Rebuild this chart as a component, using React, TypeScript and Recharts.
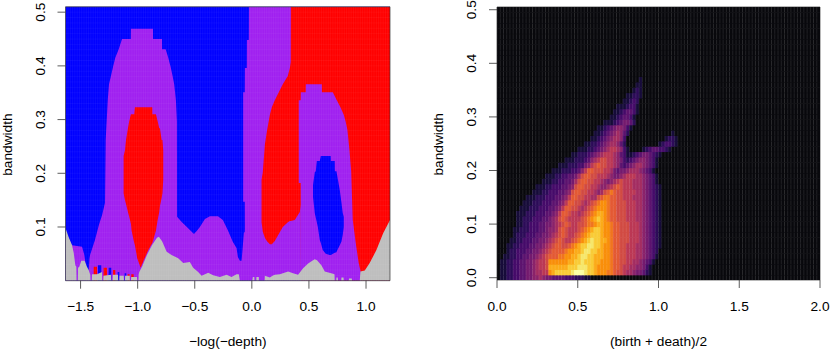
import React from 'react';
import { ComposedChart, Area, Scatter, XAxis, YAxis, ReferenceArea, ReferenceLine } from 'recharts';

const COL = { blue: '#0000FF', red: '#FF0000', purple: '#A020F0', gray: '#BEBEBE' };

// ---- left panel: regions of the (x, bandwidth) plane ----
const purpleX = [-1.632,-1.575,-1.487,-1.467,-1.452,-1.444,-1.429,-1.422,-1.417,-1.374,-1.339,-1.312,-1.286,-1.280,-1.262,-1.251,-1.234,-1.216,-1.196,-1.166,-1.137,-1.060,-1.059,-.866,-.865,-.787,-.786,-.755,-.732,-.711,-.694,-.680,-.665,-.656,-.655,-.612,-.560,-.516,-.507,-.481,-.455,-.411,-.367,-.297,-.254,-.210,-.166,-.134,-.122,-.105,-.090,-.079,-.070,-.061,-.052,.464];
const purpleTop = [.091,.066,.063,.048,.026,.018,.018,.042,.048,.076,.104,.122,.145,.262,.336,.366,.381,.398,.415,.431,.450,.450,.469,.469,.450,.450,.431,.431,.415,.398,.381,.366,.336,.297,.119,.109,.098,.089,.087,.093,.100,.115,.120,.120,.113,.094,.072,.061,.044,.037,.037,.065,.089,.091,.150,.150];

const stripX = [-.076,-.062,-.061,-.044,-.043,-.026,-.025,.35];
const stripHi = [.351,.351,.396,.396,.448,.448,.51,.51];
const stripLo = [.147,.147,.076,.076,.076,.076,.076,.076];

const redX = [.085,.096,.114,.131,.158,.175,.201,.236,.271,.315,.333,.341,.342,.376,.420,.429,.43,1.21];
const redHi = [.188,.202,.253,.277,.309,.323,.336,.351,.366,.381,.396,.407,.51,.51,.51,.51,.51,.51];
const redLo = [.109,.091,.080,.074,.068,.068,.074,.087,.100,.109,.111,.111,.111,.113,.128,.141,0,0];

const domeX = [.411,.428,.429,.472,.473,.613,.614,.709,.744,.776,.805,.822,.837,.855,.869,.870,.884,.910,.936,.954,.958];
const domeHi = [.336,.336,.351,.351,.366,.366,.351,.351,.336,.323,.309,.296,.281,.243,.206,.204,.113,.070,.033,.016,0];
const domeLo = [.182,.182,0,0,0,0,0,0,0,0,0,0,0,0,0,0,0,0,0,0,0];

const blobBlueX = [.536,.551,.560,.569,.578,.595,.604,.621,.647,.682,.691,.692,.726,.727,.741,.744,.770,.785,.796,.805];
const blobBlueHi = [.178,.202,.204,.223,.223,.223,.232,.232,.232,.232,.232,.223,.223,.204,.204,.200,.169,.145,.126,.119];
const blobBlueLo = [.156,.126,.117,.109,.100,.076,.070,.057,.050,.048,.048,.048,.052,.052,.053,.055,.066,.073,.085,.100];

const blobRedX = [-1.123,-1.111,-1.102,-1.085,-1.074,-1.059,-1.053,-1.030,-1.024,-1.004,-.974,-.945,-.907,-.872,-.871,-.858,-.840,-.825,-.811,-.805,-.790,-.783,-.776];
const blobRedHi = [.232,.243,.262,.284,.297,.310,.310,.310,.323,.323,.323,.323,.323,.323,.310,.310,.310,.297,.284,.284,.262,.262,.243];
const blobRedLo = [.163,.150,.143,.128,.119,.106,.093,.070,.066,.042,.024,.039,.057,.070,.070,.080,.093,.113,.128,.139,.154,.163,.188];

const speckRedX = [-1.386,-1.385,-1.356,-1.355,-1.299,-1.298,-1.269,-1.268,-1.217,-1.216,-1.196,-1.195,-1.089,-1.088,-1.070,-1.069,-1.057,-1.056,-1.035,-1.034];
const speckRedTop = [0,.026,.026,0,0,.024,.024,0,0,.020,.020,0,0,.012,.012,0,0,.012,.012,0];
const speckBlueX = [-1.349,-1.348,-1.319,-1.318,-1.255,-1.254,-1.231,-1.230,-1.176,-1.175,-1.161,-1.160,-1.115,-1.114,-1.100,-1.099];
const speckBlueTop = [0,.029,.029,0,0,.024,.024,0,0,.016,.016,0,0,.014,.014,0];

const grayX = [-1.632,-1.604,-1.575,-1.560,-1.546,-1.537,-1.535,-1.524,-1.522,-1.511,-1.494,-1.465,-1.444,-1.429,-1.415,-1.413,-1.402,-1.400,-1.356,-1.312,-1.311,-1.302,-1.300,-1.234,-1.232,-1.220,-1.218,-1.172,-1.171,-1.160,-1.159,-1.122,-1.120,-1.111,-1.110,-1.069,-1.068,-1.059,-1.057,-1.006,-1.004,-.993,-.991,-.986,-.962,-.919,-.875,-.831,-.814,-.785,-.746,-.703,-.645,-.601,-.543,-.514,-.470,-.440,-.382,-.339,-.280,-.221,-.178,-.134,-.114,-.105,.004,.009,.022,.023,.039,.040,.061,.062,.112,.114,.158,.181,.201,.245,.318,.361,.405,.449,.493,.536,.551,.571,.609,.639,.711,.724,.726,.739,.741,.752,.755,.783,.785,.803,.805,.849,.851,.875,.878,.945,.951,.989,1.032,1.091,1.149,1.21];
const grayTop = [.098,.081,.066,.052,.029,.026,0,0,.024,.026,.037,.037,.026,.020,.011,0,0,.012,.012,.016,0,0,.009,.011,0,0,.011,.011,0,0,.009,.009,0,0,.009,.009,0,0,.007,.007,0,0,.012,.016,.026,.048,.066,.080,.082,.073,.054,.048,.042,.033,.035,.024,.016,.009,.015,.010,.007,.011,.007,.012,.012,0,0,.007,.007,0,0,.007,.007,0,0,.009,.006,.009,.011,.012,.017,.014,.011,.023,.032,.038,.040,.038,.029,.017,.013,.012,0,0,.006,.006,0,0,.006,.006,0,0,.004,.004,0,0,.017,.019,.033,.057,.088,.113];

// ---- right panel: density levels, one string per bandwidth step (0.00, 0.01, ...) ----
const heatStarts = [1,1,1,1,2,3,3,4,5,5,6,6,6,7,8,9,11,12,14,15,17,19,21,23,25,27,29,30,31,33,35,36,37,39,40,42,43,44];
const heatLevels = [
  '1122334455667655444433322211',
  '112233445567788cdeeeeefgggfeedcccbba99877655421',
  '112233445567889ddddddeeefffeedccccbaa9887766531',
  '112233445567889ccccccddeefeeeddcccbaa99887765431',
  '11223344556789aaabbccddeffeedddccbaa998887765431',
  '12233344556789aaaabccddeffeeddccbaa998887765432',
  '112233344556789aa99abcdeeffeedccbaa9988877654321',
  '112233344556789a9889abcdefeeddcbaa9998887654321',
  '122233344556789a9889abcdeeedccbaa9998887654321',
  '112223334456679a98889abcdeedccbaa9998887654321',
  '112233344556789a98899abbcddccbaa9998887654321',
  '11222333445' + '679a98888' + '9abcdedcbaa99988877654321',
  '11122233' + '344568aa9887' + '89abcddcbaa99988877654321',
  '11122233' + '344568aa9987' + '89abcccbaa99988877654321',
  '11122233' + '344568aa9987' + '89abccbaa99988877654321',
  '11122233' + '344568aa998877' + '9abbaa99888777654321',
  '1112233' + '344569aa9988767' + '9aba99888877654321',
  '1112233' + '344569aa99887667' + '89a98887' + '77654321',
  '111223' + '344579aa9988765678988877765431',
  '111223' + '344579aa998887655678887765431',
  '11122' + '233468aa9998875455677765431',
  '11122' + '2335689a998876434567765431',
  '1112' + '2234678998876532345665431',
  '112' + '223456788876431' + '1234554321',
  '111' + '2234567887631' + '0000' + '123443321',
  '11' + '22345677642' + '0000000000' + '123321',
  '1' + '1234567763' + '000000000000' + '1221',
  '1' + '1234567642' + '0000000000000' + '1',
  '1' + '1234566531',
  '1' + '112345542',
  '1' + '1234431',
  '11' + '234431',
  '1112331',
  '11232',
  '11221',
  '121',
  '11',
  '1',
];
const levelKeys = '0123456789abcdefg';
const levelColors = ['#08080c','#160b39','#2c0b58','#450a69','#5c126e','#741a6e','#8a226a','#a32c61','#bb3754','#d14a42','#e35933','#f0741e','#f98e09','#fbab18','#f9cb35','#f6e76a','#fcffa4'];

const leftXTicks = [-1.5, -1, -0.5, 0, 0.5, 1];
const leftYTicks = [0.1, 0.2, 0.3, 0.4, 0.5];
const rightXTicks = [0, 0.5, 1, 1.5, 2];
const rightYTicks = [0, 0.1, 0.2, 0.3, 0.4, 0.5];
const leftXLabels = ['\u22121.5', '\u22121.0', '\u22120.5', '0.0', '0.5', '1.0'];

const FONT = '"Liberation Sans", Arial, Helvetica, sans-serif';
const FS = 13.7;
const INK = '#333';

const band = (xs: number[], hi: number[], lo?: number[]) =>
  xs.map((x, i) => ({ x, band: [lo ? lo[i] : 0, hi[i]] }));

const heatRows: { x: number; y: number; fill: string }[] = [];
for (let j = 0; j <= 50; j++) {
  const s = heatLevels[j] ?? '';
  const st = heatStarts[j] ?? 0;
  for (let i = 0; i < 100; i++) {
    const k = i >= st && i - st < s.length ? levelKeys.indexOf(s[i - st]) : 0;
    heatRows.push({ x: (i + 0.5) * 0.02, y: j * 0.01, fill: levelColors[Math.max(0, k)] });
  }
}

const CELL_W = 3.23;
const CELL_H = 5.36;
const HeatCell = (p: any) => {
  const left = p.cx - CELL_W / 2;
  const top = p.cy - CELL_H / 2;
  return (
    <g>
      <rect x={left - 0.3} y={top - 0.3} width={CELL_W + 0.6} height={CELL_H + 0.6} fill={p.payload.fill} />
      <line x1={left} x2={left} y1={top} y2={top + CELL_H} stroke="#fff" strokeOpacity={0.16} strokeWidth={0.7} />
      <line x1={left} x2={left + CELL_W} y1={top} y2={top} stroke="#fff" strokeOpacity={0.05} strokeWidth={0.7} />
    </g>
  );
};

const fmt = (v: number) => v.toFixed(1);
const XTick = (labels?: string[], ticks?: number[]) => (p: any) => {
  const v = p.payload.value;
  const idx = ticks ? ticks.indexOf(v) : -1;
  return (
    <text x={p.x} y={311} textAnchor="middle" fontSize={FS} fontFamily={FONT} fill="#000">
      {labels && idx >= 0 ? labels[idx] : fmt(v)}
    </text>
  );
};
const YTick = (tx: number) => (p: any) => (
  <text x={tx} y={p.y} transform={`rotate(-90 ${tx} ${p.y})`} textAnchor="middle" fontSize={FS} fontFamily={FONT} fill="#000">
    {fmt(p.payload.value)}
  </text>
);

const none = { stroke: 'none', isAnimationActive: false, dot: false, activeDot: false, legendType: 'none' as const, fillOpacity: 1 };

const seamXs: number[] = [];
for (let i = 0; i < 142; i++) seamXs.push(-1.63 + i * 0.02);
const seamYs: number[] = [];
for (let j = 0; j < 51; j++) seamYs.push(j * 0.01);

function LeftPanel() {
  return (
    <ComposedChart width={415} height={350} margin={{ top: 6.8, right: 25, bottom: 0, left: 0 }}>
      <XAxis
        dataKey="x" type="number" domain={[-1.632, 1.21]} ticks={leftXTicks} allowDataOverflow
        height={69.3} axisLine={false} tickSize={8} tickLine={{ stroke: INK, strokeWidth: 0.8 }}
        tick={XTick(leftXLabels, leftXTicks)} interval={0}
        label={{ value: '\u2212log(\u2212depth)', position: 'insideBottom', offset: 4, fontSize: FS, fontFamily: FONT, fill: '#000' }}
      />
      <YAxis
        type="number" domain={[0, 0.51]} ticks={leftYTicks} allowDataOverflow width={65.5}
        axisLine={false} tickSize={8} tickLine={{ stroke: INK, strokeWidth: 0.8 }} tick={YTick(45)} interval={0}
        label={{ value: 'bandwidth', angle: -90, position: 'insideLeft', offset: 7, dy: 32, fontSize: FS, fontFamily: FONT, fill: '#000' }}
      />
      <ReferenceArea x1={-1.632} x2={1.21} y1={0} y2={0.51} fill={COL.blue} fillOpacity={1} stroke="none" />
      <Area data={band(purpleX, purpleTop)} dataKey="band" type="linear" fill={COL.purple} {...none} />
      <Area data={band(stripX, stripHi, stripLo)} dataKey="band" type="linear" fill={COL.purple} {...none} />
      <Area data={band(redX, redHi, redLo)} dataKey="band" type="linear" fill={COL.red} {...none} />
      <Area data={band(domeX, domeHi, domeLo)} dataKey="band" type="linear" fill={COL.purple} {...none} />
      <Area data={band(blobBlueX, blobBlueHi, blobBlueLo)} dataKey="band" type="linear" fill={COL.blue} {...none} />
      <Area data={band(blobRedX, blobRedHi, blobRedLo)} dataKey="band" type="linear" fill={COL.red} {...none} />
      <Area data={band(speckRedX, speckRedTop)} dataKey="band" type="linear" fill={COL.red} {...none} />
      <Area data={band(speckBlueX, speckBlueTop)} dataKey="band" type="linear" fill={COL.blue} {...none} />
      <Area data={band(grayX, grayTop)} dataKey="band" type="linear" fill={COL.gray} {...none} />
      {seamXs.map((x) => (
        <ReferenceLine key={`x${x}`} x={x} stroke="#fff" strokeOpacity={0.05} strokeWidth={1} />
      ))}
      {seamYs.map((y) => (
        <ReferenceLine key={`y${y}`} y={y} stroke="#fff" strokeOpacity={0.04} strokeWidth={1} />
      ))}
      <ReferenceArea x1={-1.632} x2={1.21} y1={0} y2={0.51} fill="none" stroke={INK} strokeWidth={0.7} />
    </ComposedChart>
  );
}

function RightPanel() {
  return (
    <ComposedChart width={415} height={350} margin={{ top: 7, right: 10, bottom: 0, left: 0 }}>
      <XAxis
        dataKey="x" type="number" domain={[0, 2]} ticks={rightXTicks} allowDataOverflow
        height={70} axisLine={false} tickSize={8} tickLine={{ stroke: INK, strokeWidth: 0.8 }}
        tick={XTick()} interval={0}
        label={{ value: '(birth + death)/2', position: 'insideBottom', offset: 4, fontSize: FS, fontFamily: FONT, fill: '#000' }}
      />
      <YAxis
        dataKey="y" type="number" domain={[-0.0043, 0.5051]} ticks={rightYTicks} allowDataOverflow width={82}
        axisLine={false} tickSize={8} tickLine={{ stroke: INK, strokeWidth: 0.8 }} tick={YTick(60.7)} interval={0}
        label={{ value: 'bandwidth', angle: -90, position: 'insideLeft', offset: 23, dy: 32, fontSize: FS, fontFamily: FONT, fill: '#000' }}
      />
      <Scatter data={heatRows} isAnimationActive={false} shape={HeatCell} legendType="none" />
      <ReferenceArea x1={0} x2={2} y1={-0.0043} y2={0.5051} fill="none" stroke={INK} strokeWidth={0.7} />
    </ComposedChart>
  );
}

export default function App() {
  return (
    <div style={{ position: 'absolute', left: 0, top: 0, width: 830, height: 350, background: '#fff', overflow: 'hidden' }}>
      <div style={{ position: 'absolute', left: 0, top: 0 }}><LeftPanel /></div>
      <div style={{ position: 'absolute', left: 415, top: 0 }}><RightPanel /></div>
    </div>
  );
}
